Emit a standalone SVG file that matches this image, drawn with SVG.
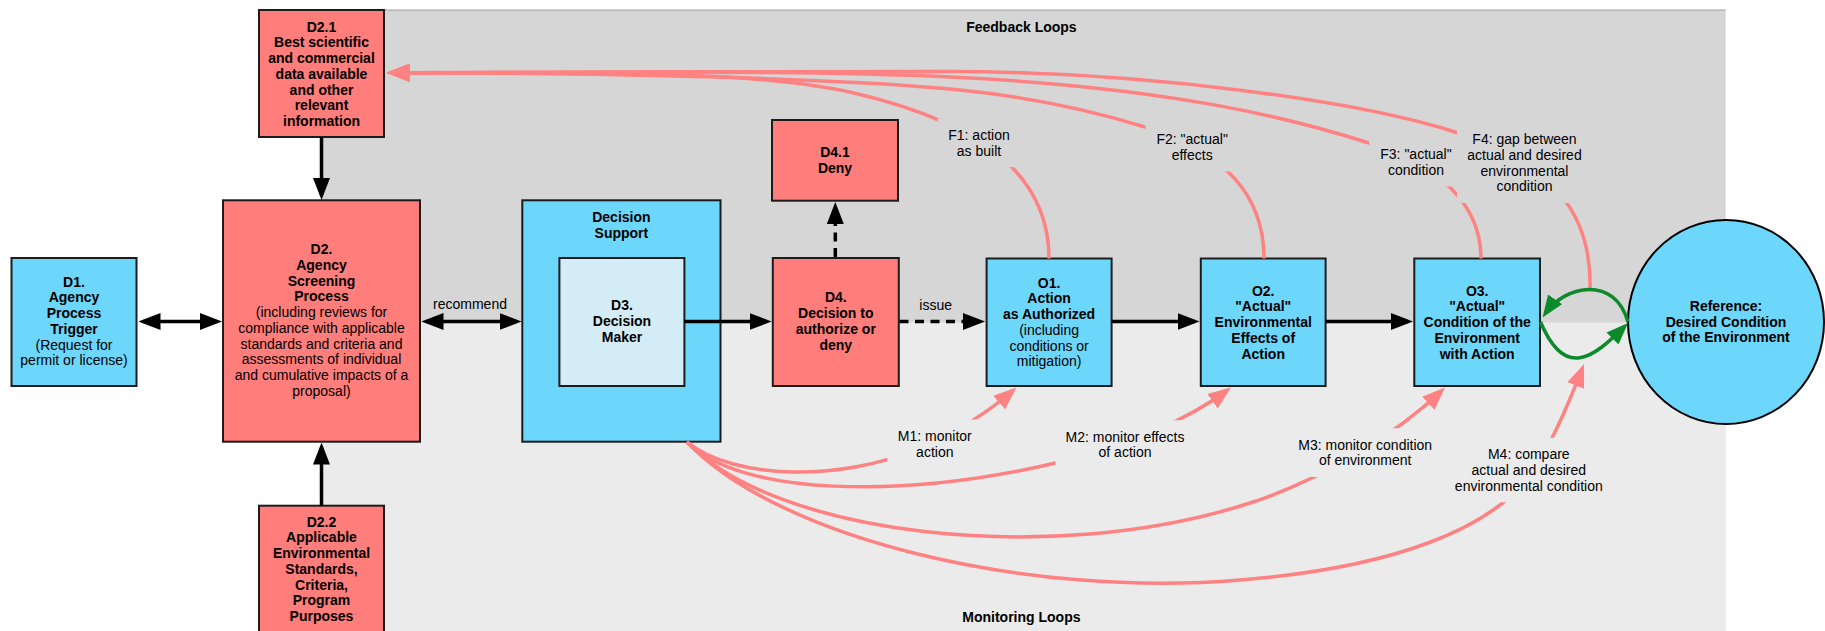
<svg xmlns="http://www.w3.org/2000/svg" width="1825" height="631" viewBox="0 0 1825 631">
<style>
text{font-family:'Liberation Sans',Arial,Helvetica,sans-serif;font-size:14px;text-anchor:middle;fill:#000}
.b{font-weight:bold}
.nd{stroke:#1c1c1c;stroke-width:2}
.red{fill:#ff7d7a}
.blue{fill:#6dd6fb}
.pale{fill:#d4ecf5}
.c{fill:none;stroke-width:3.5}
.k{stroke:#000}
.p{stroke:#ff8282}
.g{stroke:#0c8a2c}
.dash{stroke-dasharray:9 6.5}
.lt{fill:#d6d6d6}
.lb{fill:#ebebeb}
</style>
<defs>
<marker id="ak" markerUnits="userSpaceOnUse" markerWidth="22" markerHeight="17" viewBox="0 0 22 17" refX="17" refY="8.5" orient="auto-start-reverse"><path d="M0,0 L22,8.5 L0,17 z" fill="#000"/></marker>
<marker id="ap" markerUnits="userSpaceOnUse" markerWidth="23" markerHeight="18" viewBox="0 0 23 18" refX="18" refY="9" orient="auto"><path d="M0,0 L23,9 L0,18 z" fill="#ff8282"/></marker>
<marker id="ag" markerUnits="userSpaceOnUse" markerWidth="22" markerHeight="17" viewBox="0 0 22 17" refX="17" refY="8.5" orient="auto"><path d="M0,0 L22,8.5 L0,17 z" fill="#0c8a2c"/></marker>
</defs>

<g id="panels">
<rect class="lt" x="321.5" y="9.5" width="1404.2" height="313.3"/>
<rect class="lb" x="321.5" y="322.8" width="1404.2" height="310"/>
<line x1="321.5" y1="10.2" x2="1725.7" y2="10.2" stroke="#b9b9b9" stroke-width="1.6"/>
<text class="b" x="1021.4" y="31.7">Feedback Loops</text>
<text class="b" x="1021.4" y="621.7">Monitoring Loops</text>
</g>

<g id="D1">
<rect class="nd blue" x="11.5" y="258" width="125" height="128"/>
<text class="b"><tspan x="74" y="286.7">D1.</tspan><tspan x="74" y="302.4">Agency</tspan><tspan x="74" y="318.1">Process</tspan><tspan x="74" y="333.8">Trigger</tspan></text>
<text><tspan x="74" y="349.5">(Request for</tspan><tspan x="74" y="365.2">permit or license)</tspan></text>
</g>

<g id="D2">
<rect class="nd red" x="223" y="200.3" width="197" height="241.4"/>
<text class="b"><tspan x="321.5" y="254.3">D2.</tspan><tspan x="321.5" y="270">Agency</tspan><tspan x="321.5" y="285.7">Screening</tspan><tspan x="321.5" y="301.4">Process</tspan></text>
<text><tspan x="321.5" y="317.1">(including reviews for</tspan><tspan x="321.5" y="332.8">compliance with applicable</tspan><tspan x="321.5" y="348.5">standards and criteria and</tspan><tspan x="321.5" y="364.2">assessments of individual</tspan><tspan x="321.5" y="379.9">and cumulative impacts of a</tspan><tspan x="321.5" y="395.6">proposal)</tspan></text>
</g>

<g id="D2.1">
<rect class="nd red" x="259" y="10" width="125" height="127"/>
<text class="b"><tspan x="321.5" y="31.7">D2.1</tspan><tspan x="321.5" y="47.4">Best scientific</tspan><tspan x="321.5" y="63.1">and commercial</tspan><tspan x="321.5" y="78.8">data available</tspan><tspan x="321.5" y="94.5">and other</tspan><tspan x="321.5" y="110.2">relevant</tspan><tspan x="321.5" y="125.9">information</tspan></text>
</g>

<g id="D2.2">
<rect class="nd red" x="259" y="505.7" width="125" height="130"/>
<text class="b"><tspan x="321.5" y="526.7">D2.2</tspan><tspan x="321.5" y="542.4">Applicable</tspan><tspan x="321.5" y="558.1">Environmental</tspan><tspan x="321.5" y="573.8">Standards,</tspan><tspan x="321.5" y="589.5">Criteria,</tspan><tspan x="321.5" y="605.2">Program</tspan><tspan x="321.5" y="620.9">Purposes</tspan></text>
</g>

<g id="DecisionSupport">
<rect class="nd blue" x="522.3" y="200.3" width="198.2" height="241.4"/>
<text class="b"><tspan x="621.4" y="222.3">Decision</tspan><tspan x="621.4" y="238">Support</tspan></text>
</g>

<g id="D3">
<rect class="nd pale" x="559.4" y="258" width="125" height="128"/>
<text class="b"><tspan x="622" y="310.3">D3.</tspan><tspan x="622" y="326">Decision</tspan><tspan x="622" y="341.7">Maker</tspan></text>
</g>

<g id="D4">
<rect class="nd red" x="772.8" y="258" width="126" height="128"/>
<text class="b"><tspan x="835.8" y="302.4">D4.</tspan><tspan x="835.8" y="318.1">Decision to</tspan><tspan x="835.8" y="333.8">authorize or</tspan><tspan x="835.8" y="349.5">deny</tspan></text>
</g>

<g id="D4.1">
<rect class="nd red" x="772" y="120" width="126" height="80.7"/>
<text class="b"><tspan x="835" y="157.3">D4.1</tspan><tspan x="835" y="173">Deny</tspan></text>
</g>

<g id="O1">
<rect class="nd blue" x="986.6" y="258.5" width="125" height="127.5"/>
<text class="b"><tspan x="1049.1" y="287.7">O1.</tspan><tspan x="1049.1" y="303.4">Action</tspan><tspan x="1049.1" y="319.1">as Authorized</tspan></text>
<text><tspan x="1049.1" y="334.8">(including</tspan><tspan x="1049.1" y="350.5">conditions or</tspan><tspan x="1049.1" y="366.2">mitigation)</tspan></text>
</g>

<g id="O2">
<rect class="nd blue" x="1200.8" y="258.5" width="124.8" height="127.5"/>
<text class="b"><tspan x="1263.2" y="295.7">O2.</tspan><tspan x="1263.2" y="311.4">"Actual"</tspan><tspan x="1263.2" y="327.1">Environmental</tspan><tspan x="1263.2" y="342.8">Effects of</tspan><tspan x="1263.2" y="358.5">Action</tspan></text>
</g>

<g id="O3">
<rect class="nd blue" x="1414.3" y="258.5" width="125.7" height="127.5"/>
<text class="b"><tspan x="1477.2" y="295.7">O3.</tspan><tspan x="1477.2" y="311.4">"Actual"</tspan><tspan x="1477.2" y="327.1">Condition of the</tspan><tspan x="1477.2" y="342.8">Environment</tspan><tspan x="1477.2" y="358.5">with Action</tspan></text>
</g>

<g id="Reference">
<ellipse class="blue" cx="1726" cy="322" rx="98" ry="102" stroke="#000" stroke-width="2"/>
<text class="b"><tspan x="1726" y="311">Reference:</tspan><tspan x="1726" y="326.7">Desired Condition</tspan><tspan x="1726" y="342.4">of the Environment</tspan></text>
</g>

<g id="connectors">
<path class="c k" d="M321.5,137 L321.5,195" marker-end="url(#ak)"/>
<path class="c k" d="M321.5,505.7 L321.5,447.5" marker-end="url(#ak)"/>
<path class="c k" d="M143.5,321.5 L217,321.5" marker-start="url(#ak)" marker-end="url(#ak)"/>
<path class="c k" d="M426.5,321.5 L516.5,321.5" marker-start="url(#ak)" marker-end="url(#ak)"/>
<path class="c k" d="M684.4,321.5 L766.5,321.5" marker-end="url(#ak)"/>
<path class="c k dash" d="M899.5,321.5 L980,321.5" marker-end="url(#ak)"/>
<path class="c k dash" d="M835.3,257 L835.3,207" marker-end="url(#ak)"/>
<path class="c k" d="M1111.6,321.5 L1194.5,321.5" marker-end="url(#ak)"/>
<path class="c k" d="M1325.6,321.5 L1408,321.5" marker-end="url(#ak)"/>

<path class="c p" d="M1049,258.5 C1049,180 990,125 854,93 C760,71 600,72.7 391.5,72.7" marker-end="url(#ap)"/>
<path class="c p" d="M1264,258.5 C1264,195 1225,152 1145,127 C1100,113 1040,98 960,90 C860,80 650,72.7 391.5,72.7" marker-end="url(#ap)"/>
<path class="c p" d="M1481,258.5 C1481,205 1440,165 1369,143 C1300,121 1180,88 950,77 C800,70 600,72.7 391.5,72.7" marker-end="url(#ap)"/>
<path class="c p" d="M1590,290 C1592,222 1562,167 1458,133 C1360,101 1150,72 950,71.5 C750,71 600,72.7 391.5,72.7" marker-end="url(#ap)"/>

<path class="c p" d="M687,442 C735,480 840,482 920,448 C950,435 985,415 1012.7,390.8" marker-end="url(#ap)"/>
<path class="c p" d="M687,442 C740,495 900,500 1060,462 C1120,447 1180,425 1227,390.5" marker-end="url(#ap)"/>
<path class="c p" d="M687,442 C775,535 1050,568 1250,503 C1330,477 1400,430 1441.4,390.9" marker-end="url(#ap)"/>
<path class="c p" d="M687,442 C780,540 1030,598 1240,580 C1390,568 1495,530 1535,468 C1555,438 1572,395 1582.2,368.7" marker-end="url(#ap)"/>

<path class="c g" d="M1628,322 C1615,275 1565,285 1545.4,313.3" marker-end="url(#ag)"/>
<path class="c g" d="M1540.5,322 C1565,380 1593,358 1624.5,326.5" marker-end="url(#ag)"/>
</g>

<g id="labels">
<text x="470" y="309">recommend</text>
<text x="935.7" y="310">issue</text>
<rect class="lt" x="937.6" y="118.5" width="82.8" height="48.7"/>
<text><tspan x="979" y="140">F1: action</tspan><tspan x="979" y="155.7">as built</tspan></text>
<rect class="lt" x="1145.5" y="122.8" width="93.4" height="48.7"/>
<text><tspan x="1192.2" y="144.3">F2: "actual"</tspan><tspan x="1192.2" y="160">effects</tspan></text>
<rect class="lt" x="1369.2" y="137.8" width="93.6" height="48.7"/>
<text><tspan x="1416" y="159.3">F3: "actual"</tspan><tspan x="1416" y="175">condition</tspan></text>
<rect class="lt" x="1457" y="122.8" width="135" height="80.1"/>
<text><tspan x="1524.5" y="144.3">F4: gap between</tspan><tspan x="1524.5" y="160">actual and desired</tspan><tspan x="1524.5" y="175.7">environmental</tspan><tspan x="1524.5" y="191.4">condition</tspan></text>
<rect class="lb" x="887.3" y="419.5" width="95" height="48.7"/>
<text><tspan x="934.8" y="441">M1: monitor</tspan><tspan x="934.8" y="456.7">action</tspan></text>
<rect class="lb" x="1055.5" y="420.2" width="139" height="48.7"/>
<text><tspan x="1125" y="441.7">M2: monitor effects</tspan><tspan x="1125" y="457.4">of action</tspan></text>
<rect class="lb" x="1287.3" y="428.2" width="155.8" height="48.7"/>
<text><tspan x="1365.2" y="449.7">M3: monitor condition</tspan><tspan x="1365.2" y="465.4">of environment</tspan></text>
<rect class="lb" x="1444.4" y="437.8" width="168.8" height="64.4"/>
<text><tspan x="1528.8" y="459.3">M4: compare</tspan><tspan x="1528.8" y="475">actual and desired</tspan><tspan x="1528.8" y="490.7">environmental condition</tspan></text>
</g>
</svg>
